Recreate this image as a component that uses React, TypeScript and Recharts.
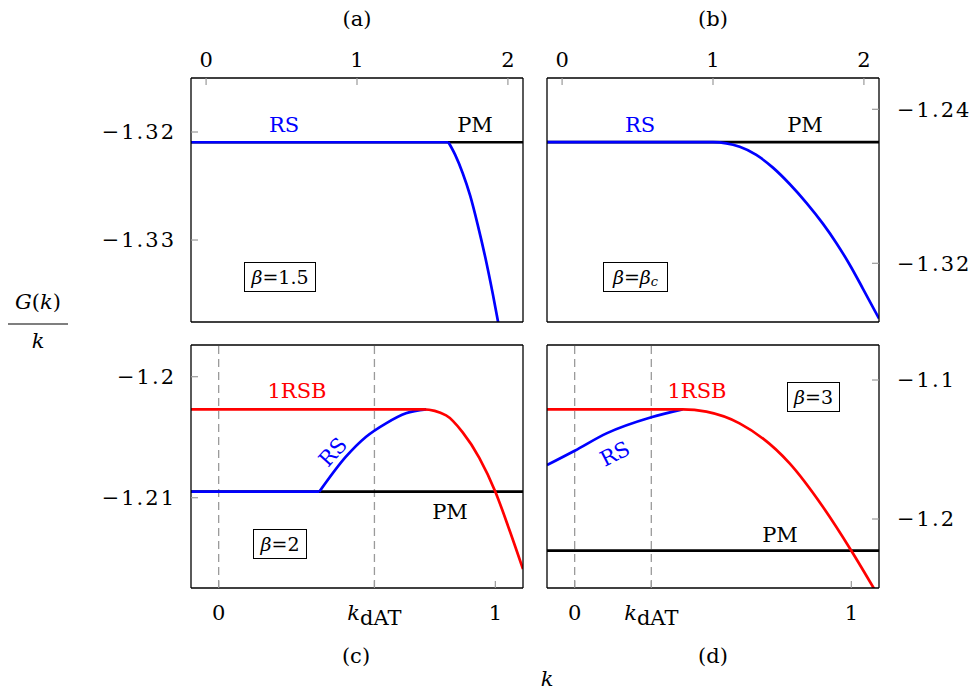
import React from "react";
import { LineChart, Line, XAxis, YAxis, ReferenceLine } from "recharts";

const FONT = "'DejaVu Serif', 'Liberation Serif', serif";
const BLUE = "#0000ff";
const RED = "#ff0000";
const BLACK = "#000000";
const TICK_GRAY = "#9a9a9a";

type Pt = { k: number; v: number };
type Curve = "linear" | "monotone";
type Series = { data: Pt[]; color: string; curve: Curve };

// x axes
const topXDomain: [number, number] = [-0.1, 2.1];
const bottomXDomain: [number, number] = [-0.1, 1.1];
const topXTicks = [0, 1, 2];
const kdatC = 0.563;
const kdatD = 0.277;
const cXTicks = [0, kdatC, 1];
const dXTicks = [0, kdatD, 1];

// (a) beta = 1.5
const aYDomain: [number, number] = [-1.33759, -1.315];
const aYTicks = [-1.32, -1.33];
const aPM: Pt[] = [
  { k: -0.1, v: -1.32095 },
  { k: 2.1, v: -1.32095 },
];
const aRSFlat: Pt[] = [
  { k: -0.1, v: -1.32095 },
  { k: 1.606, v: -1.32095 },
];
const aRSDrop: Pt[] = [
  { k: 1.606, v: -1.32095 },
  { k: 1.65, v: -1.3221 },
  { k: 1.7, v: -1.3238 },
  { k: 1.75, v: -1.3259 },
  { k: 1.8, v: -1.3286 },
  { k: 1.85, v: -1.3316 },
  { k: 1.9, v: -1.335 },
  { k: 1.95, v: -1.3387 },
];

// (b) beta = beta_c
const bYDomain: [number, number] = [-1.35049, -1.22374];
const bYTicks = [-1.24, -1.32];
const bPM: Pt[] = [
  { k: -0.1, v: -1.2571 },
  { k: 2.1, v: -1.2571 },
];
const bRS: Pt[] = [
  { k: -0.1, v: -1.2571 },
  { k: 1.0, v: -1.2571 },
  { k: 1.177, v: -1.2595 },
  { k: 1.287, v: -1.2637 },
  { k: 1.397, v: -1.2703 },
  { k: 1.508, v: -1.2788 },
  { k: 1.619, v: -1.2886 },
  { k: 1.728, v: -1.2994 },
  { k: 1.817, v: -1.3094 },
  { k: 1.905, v: -1.3206 },
  { k: 1.993, v: -1.3331 },
  { k: 2.1, v: -1.3487 },
];

// (c) beta = 2
const cYDomain: [number, number] = [-1.21746, -1.19738];
const cYTicks = [-1.2, -1.21];
const cPM: Pt[] = [
  { k: -0.1, v: -1.2095 },
  { k: 1.1, v: -1.2095 },
];
const cRSFlat: Pt[] = [
  { k: -0.1, v: -1.2095 },
  { k: 0.364, v: -1.2095 },
];
const cRSRise: Pt[] = [
  { k: 0.364, v: -1.2095 },
  { k: 0.46, v: -1.20661 },
  { k: 0.533, v: -1.20496 },
  { k: 0.605, v: -1.20385 },
  { k: 0.677, v: -1.20302 },
  { k: 0.75, v: -1.2027 },
];
const c1RSB: Pt[] = [
  { k: -0.1, v: -1.2027 },
  { k: 0.74, v: -1.2027 },
  { k: 0.822, v: -1.2032 },
  { k: 0.882, v: -1.2046 },
  { k: 0.942, v: -1.2067 },
  { k: 1.0, v: -1.2095 },
  { k: 1.05, v: -1.2126 },
  { k: 1.1, v: -1.2159 },
];

// (d) beta = 3
const dYDomain: [number, number] = [-1.24964, -1.07482];
const dYTicks = [-1.1, -1.2];
const dPM: Pt[] = [
  { k: -0.1, v: -1.2228 },
  { k: 1.1, v: -1.2228 },
];
const dRS: Pt[] = [
  { k: -0.1, v: -1.1612 },
  { k: 0.0, v: -1.1509 },
  { k: 0.115, v: -1.1384 },
  { k: 0.277, v: -1.1268 },
  { k: 0.39, v: -1.1211 },
];
const d1RSB: Pt[] = [
  { k: -0.1, v: -1.1211 },
  { k: 0.39, v: -1.1211 },
  { k: 0.476, v: -1.1228 },
  { k: 0.596, v: -1.1312 },
  { k: 0.777, v: -1.16 },
  { k: 0.897, v: -1.1912 },
  { k: 1.0, v: -1.2228 },
  { k: 1.1, v: -1.2562 },
];

const PAD_X = 100;
const PAD_Y = 60;
const TICK_FONT = 21;

const fmt = (v: number) => String(v).replace("-", "\u2212");

function BottomTick(props: any) {
  const { x, y, payload } = props;
  const v = payload.value;
  const isK = v !== 0 && v !== 1;
  return (
    <text x={x} y={y} dy="0.72em" textAnchor="middle" fontFamily={FONT} fontSize={TICK_FONT} fill="#000">
      {isK ? (
        <>
          <tspan fontStyle="italic">k</tspan>
          <tspan dy={5}>dAT</tspan>
        </>
      ) : (
        String(v)
      )}
    </text>
  );
}

type PanelProps = {
  x: number;
  y: number;
  w: number;
  h: number;
  xDomain: [number, number];
  yDomain: [number, number];
  xTicks: number[];
  yTicks: number[];
  xSide: "top" | "bottom";
  ySide: "left" | "right";
  series: Series[];
  dashed?: number[];
};

function Panel({ x, y, w, h, xDomain, yDomain, xTicks, yTicks, xSide, ySide, series, dashed = [] }: PanelProps) {
  const axisLine = { stroke: BLACK, strokeWidth: 1.3 };
  const tickLine = { stroke: TICK_GRAY, strokeWidth: 1.2 };
  const tickStyle = { fill: "#000", fontSize: TICK_FONT, fontFamily: FONT };
  return (
    <div style={{ position: "absolute", left: x - PAD_X, top: y - PAD_Y }}>
      <LineChart
        width={w + 2 * PAD_X}
        height={h + 2 * PAD_Y}
        margin={{ top: PAD_Y - 1, bottom: PAD_Y - 1, left: PAD_X - 1, right: PAD_X - 1 }}
      >
        <XAxis
          xAxisId="main"
          type="number"
          dataKey="k"
          domain={xDomain}
          ticks={xTicks}
          interval={0}
          orientation={xSide}
          height={1}
          tickSize={-7}
          tickMargin={xSide === "top" ? 18 : 24}
          allowDataOverflow
          axisLine={axisLine}
          tickLine={tickLine}
          tick={xSide === "top" ? tickStyle : <BottomTick />}
        />
        <XAxis
          xAxisId="mirror"
          type="number"
          dataKey="k"
          domain={xDomain}
          ticks={xTicks}
          interval={0}
          orientation={xSide === "top" ? "bottom" : "top"}
          height={1}
          tickSize={-7}
          allowDataOverflow
          axisLine={axisLine}
          tickLine={tickLine}
          tick={false}
        />
        <YAxis
          yAxisId="main"
          type="number"
          domain={yDomain}
          ticks={yTicks}
          interval={0}
          orientation={ySide}
          width={1}
          tickSize={-7}
          tickMargin={ySide === "left" ? 22 : 25}
          allowDataOverflow
          axisLine={axisLine}
          tickLine={tickLine}
          tick={{ ...tickStyle, letterSpacing: 2 }}
          tickFormatter={fmt}
        />
        <YAxis
          yAxisId="mirror"
          type="number"
          domain={yDomain}
          ticks={yTicks}
          interval={0}
          orientation={ySide === "left" ? "right" : "left"}
          width={1}
          tickSize={-7}
          allowDataOverflow
          axisLine={axisLine}
          tickLine={tickLine}
          tick={false}
        />
        {dashed.map((k) => (
          <ReferenceLine
            key={k}
            xAxisId="main"
            yAxisId="main"
            x={k}
            stroke={TICK_GRAY}
            strokeWidth={1.3}
            strokeDasharray="8 5"
          />
        ))}
        {series.map((s, i) => (
          <Line
            key={i}
            xAxisId="main"
            yAxisId="main"
            data={s.data}
            dataKey="v"
            type={s.curve}
            stroke={s.color}
            strokeWidth={2.7}
            dot={false}
            activeDot={false}
            isAnimationActive={false}
          />
        ))}
      </LineChart>
    </div>
  );
}

const txt = { fontFamily: FONT, fontSize: 21, textAnchor: "middle" as const, dominantBaseline: "central" as const };

function Overlay() {
  return (
    <svg width={979} height={690} style={{ position: "absolute", left: 0, top: 0, pointerEvents: "none" }}>
      {/* panel titles */}
      <text x={357} y={19} {...txt}>(a)</text>
      <text x={713} y={19} {...txt}>(b)</text>
      <text x={356} y={656} {...txt}>(c)</text>
      <text x={713} y={656} {...txt}>(d)</text>
      <text x={547} y={679} {...txt} fontStyle="italic">k</text>
      {/* y label */}
      <text x={38} y={302} {...txt}>
        <tspan fontStyle="italic">G</tspan>(<tspan fontStyle="italic">k</tspan>)
      </text>
      <line x1={8} x2={68} y1={324} y2={324} stroke="#000" strokeWidth={1.2} />
      <text x={38} y={341} {...txt} fontStyle="italic">k</text>

      {/* (a) */}
      <text x={284} y={125} {...txt} fill={BLUE}>RS</text>
      <text x={475} y={125} {...txt}>PM</text>
      <rect x={244.5} y={262.5} width={71} height={29} fill="#fff" stroke="#000" strokeWidth={1} />
      <text x={280} y={277} {...txt} fontSize={19}>
        <tspan fontStyle="italic">β</tspan>=1.5
      </text>

      {/* (b) */}
      <text x={640} y={125} {...txt} fill={BLUE}>RS</text>
      <text x={805} y={125} {...txt}>PM</text>
      <rect x={603.5} y={262.5} width={64} height={29} fill="#fff" stroke="#000" strokeWidth={1} />
      <text x={635.5} y={277} {...txt} fontSize={19}>
        <tspan fontStyle="italic">β</tspan>=<tspan fontStyle="italic">β</tspan>
        <tspan fontStyle="italic" fontSize={13} dy={4}>c</tspan>
      </text>

      {/* (c) */}
      <text x={297} y={391} {...txt} fill={RED}>1RSB</text>
      <text x={333} y={452} {...txt} fill={BLUE} transform="rotate(-48 333 452)">RS</text>
      <text x={450} y={512} {...txt}>PM</text>
      <rect x={253.5} y={529.5} width={53} height={29} fill="#fff" stroke="#000" strokeWidth={1} />
      <text x={280} y={544} {...txt} fontSize={19}>
        <tspan fontStyle="italic">β</tspan>=2
      </text>

      {/* (d) */}
      <text x={697} y={391} {...txt} fill={RED}>1RSB</text>
      <text x={615} y={454} {...txt} fill={BLUE} transform="rotate(-27 615 454)">RS</text>
      <text x={780} y={535} {...txt}>PM</text>
      <rect x={787.5} y={382.5} width={52} height={29} fill="#fff" stroke="#000" strokeWidth={1} />
      <text x={813.5} y={397} {...txt} fontSize={19}>
        <tspan fontStyle="italic">β</tspan>=3
      </text>
    </svg>
  );
}

export default function App() {
  return (
    <div style={{ position: "absolute", left: 0, top: 0, width: 979, height: 690, background: "#fff", fontFamily: FONT }}>
      <Panel
        x={191}
        y={78}
        w={332}
        h={244}
        xDomain={topXDomain}
        yDomain={aYDomain}
        xTicks={topXTicks}
        yTicks={aYTicks}
        xSide="top"
        ySide="left"
        series={[
          { data: aPM, color: BLACK, curve: "linear" },
          { data: aRSFlat, color: BLUE, curve: "linear" },
          { data: aRSDrop, color: BLUE, curve: "monotone" },
        ]}
      />
      <Panel
        x={547}
        y={78}
        w={332}
        h={244}
        xDomain={topXDomain}
        yDomain={bYDomain}
        xTicks={topXTicks}
        yTicks={bYTicks}
        xSide="top"
        ySide="right"
        series={[
          { data: bPM, color: BLACK, curve: "linear" },
          { data: bRS, color: BLUE, curve: "monotone" },
        ]}
      />
      <Panel
        x={191}
        y={345}
        w={332}
        h={243}
        xDomain={bottomXDomain}
        yDomain={cYDomain}
        xTicks={cXTicks}
        yTicks={cYTicks}
        xSide="bottom"
        ySide="left"
        dashed={[0, kdatC]}
        series={[
          { data: cPM, color: BLACK, curve: "linear" },
          { data: cRSFlat, color: BLUE, curve: "linear" },
          { data: cRSRise, color: BLUE, curve: "monotone" },
          { data: c1RSB, color: RED, curve: "monotone" },
        ]}
      />
      <Panel
        x={547}
        y={345}
        w={332}
        h={243}
        xDomain={bottomXDomain}
        yDomain={dYDomain}
        xTicks={dXTicks}
        yTicks={dYTicks}
        xSide="bottom"
        ySide="right"
        dashed={[0, kdatD]}
        series={[
          { data: dPM, color: BLACK, curve: "linear" },
          { data: dRS, color: BLUE, curve: "monotone" },
          { data: d1RSB, color: RED, curve: "monotone" },
        ]}
      />
      <Overlay />
    </div>
  );
}
